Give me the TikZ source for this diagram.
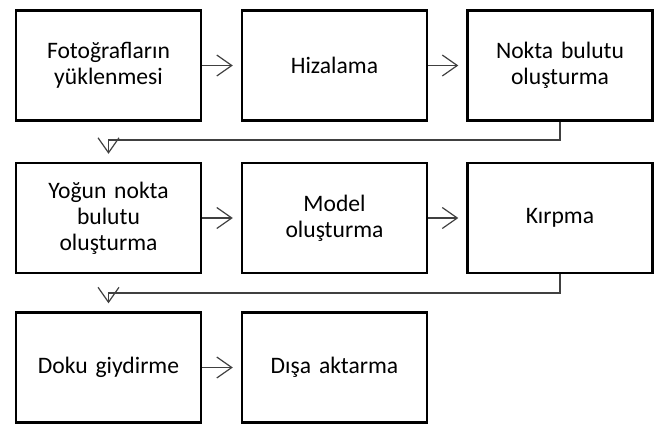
\documentclass[tikz,border=0pt]{standalone}
\usepackage{fontspec}
\setmainfont[WordSpace=0.85]{Carlito}
\usetikzlibrary{arrows.meta}
\begin{document}
\begin{tikzpicture}[x=1pt,y=-1pt,
  stepbox/.style={draw=black,line width=2.4pt,minimum width=185pt,minimum height=110pt,
    inner sep=2pt,align=center,font=\fontsize{23.6}{26}\selectfont,text width=180pt},
  flow/.style={draw=black!75,line width=1.2pt,shorten >=8pt,
    -{Straight Barb[length=15pt,width=21pt,line width=1.2pt]}}]
\useasboundingbox (0,0) rectangle (659,424);
\node[stepbox] (b1) at (108.5,65.5) {Fotoğrafların\\yüklenmesi};
\node[stepbox] (b2) at (334.5,65.5) {Hizalama};
\node[stepbox] (b3) at (560,65.5) {Nokta bulutu\\oluşturma};
\node[stepbox] (b4) at (108.5,218) {Yoğun nokta\\bulutu\\oluşturma};
\node[stepbox] (b5) at (334.5,218) {Model\\oluşturma};
\node[stepbox] (b6) at (560,218) {Kırpma};
\node[stepbox] (b7) at (108.5,367.5) {Doku giydirme};
\node[stepbox] (b8) at (334.5,367.5) {Dışa aktarma};
\coordinate (c1) at (560,140);
\coordinate (c2) at (560,293);
\draw[flow] (b1) -- (b2);
\draw[flow] (b2) -- (b3);
\draw[flow] (b3.south) -- (c1) -| (b4.north);
\draw[flow] (b4) -- (b5);
\draw[flow] (b5) -- (b6);
\draw[flow] (b6.south) -- (c2) -| (b7.north);
\draw[flow] (b7) -- (b8);
\end{tikzpicture}
\end{document}
